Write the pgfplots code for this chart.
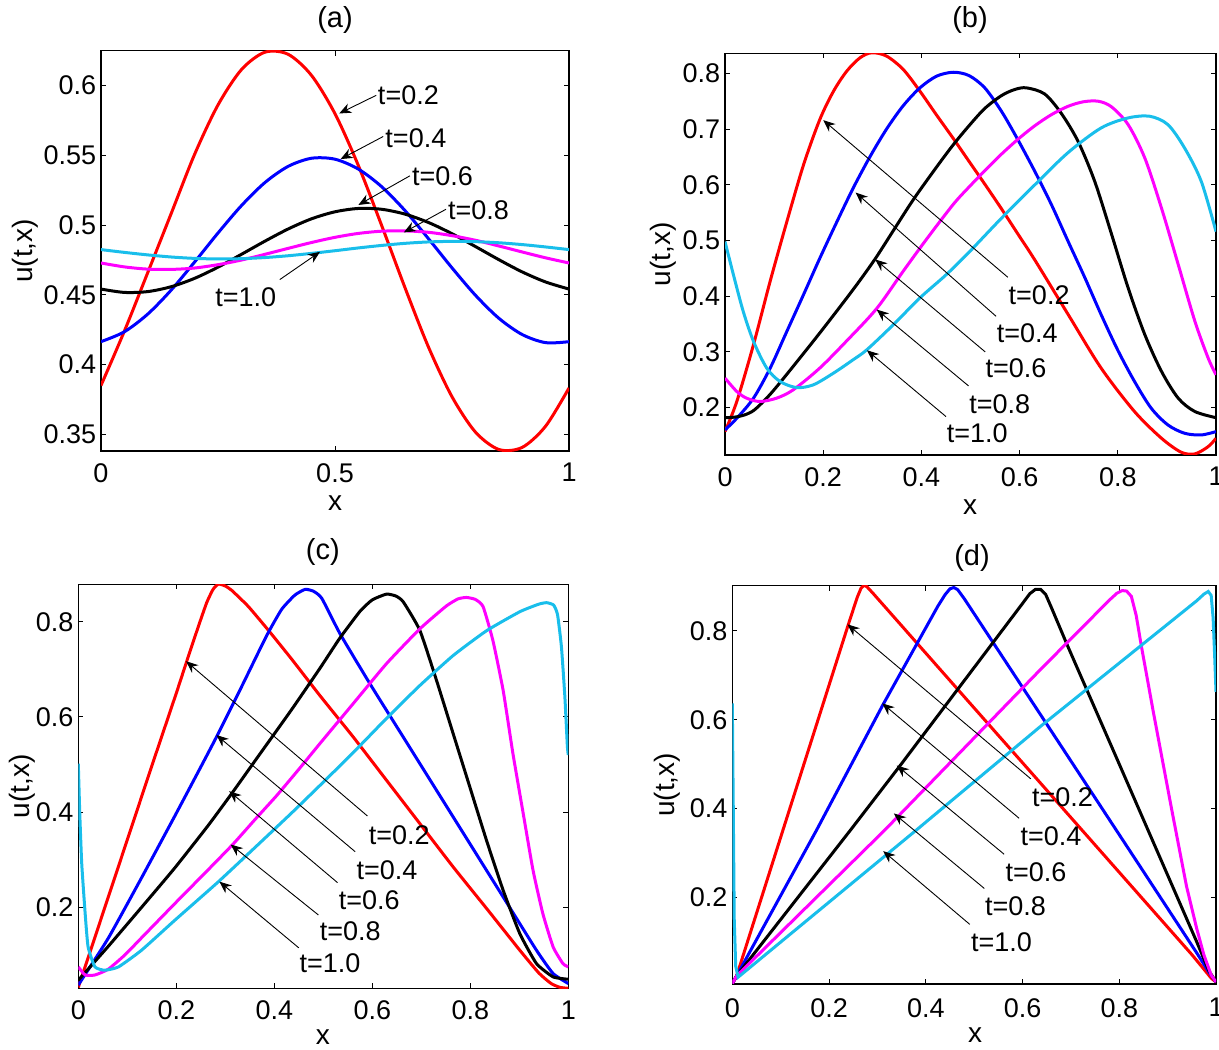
\documentclass[border=0pt]{standalone}
\usepackage{fontspec}
\setmainfont{Liberation Sans}
\usepackage{pgfplots}
\pgfplotsset{compat=1.18}
\usetikzlibrary{arrows.meta}
\definecolor{mcyan}{RGB}{25,190,235}
\definecolor{mmag}{RGB}{255,0,255}
\pgfplotsset{
  panel/.style={
    scale only axis,
    tick align=inside,
    major tick length=2.5pt,
    axis line style={line width=0.6pt},
    every tick/.style={black, line width=0.5pt},
    tick label style={font=\fontsize{13.5}{16}\selectfont},
    label style={font=\fontsize{14}{17}\selectfont},
    every axis title shift=0pt,
    title style={font=\fontsize{14.5}{17}\selectfont, anchor=center, yshift=0pt},
    yticklabel style={inner sep=0pt, xshift=-2.2pt},
    xticklabel style={inner sep=0pt, yshift=-6pt},
    /pgf/number format/assume math mode=true,
    every axis plot/.append style={line width=1.5pt, no marks},
    ylabel={u(t,x)}, xlabel={x},
  },
}
\tikzset{
  ann/.style={-{Stealth[length=6pt,width=5pt]}, line width=0.45pt, black},
  tl/.style={anchor=west, inner sep=0pt, font=\fontsize{13.5}{16}\selectfont},
}
\begin{document}
\begin{tikzpicture}
\path[use as bounding box] (0,0) rectangle (609.5pt,-524.5pt);

% ---------------- (a)
\begin{axis}[panel, at={(50.5pt,-25.35pt)}, anchor=north west,
  width=234pt, height=200.15pt,
  xmin=0, xmax=1, ymin=0.338, ymax=0.625,
  xtick={0,0.5,1}, xticklabels={0,0.5,1}, ytick={0.35,0.4,0.45,0.5,0.55,0.6},
  yticklabels={0.35,0.4,0.45,0.5,0.55,0.6},
  title={(a)},
  title style={at={(axis description cs:0.5,1.077)}},
  ylabel style={at={(axis description cs:-0.162,0.5)}, anchor=center},
  xlabel style={at={(axis description cs:0.5,-0.129)}, anchor=center},
]
\addplot[red, smooth] coordinates {(0,0.385)(0.05,0.424)(0.1,0.466)(0.15,0.5083)(0.2,0.5507)(0.25,0.5861)(0.3,0.6114)(0.35,0.6239)(0.4,0.6224)(0.45,0.6072)(0.5,0.5798)(0.55,0.5426)(0.6,0.4994)(0.65,0.4547)(0.7,0.4123)(0.75,0.3769)(0.8,0.3516)(0.85,0.3391)(0.9,0.3406)(0.95,0.3558)(1,0.3832)};
\addplot[blue, smooth] coordinates {(0,0.4164)(0.05,0.4235)(0.1,0.4362)(0.15,0.4534)(0.2,0.4735)(0.25,0.4943)(0.3,0.5139)(0.35,0.5304)(0.4,0.5421)(0.45,0.5479)(0.5,0.5472)(0.55,0.5401)(0.6,0.5274)(0.65,0.5102)(0.7,0.4901)(0.75,0.4693)(0.8,0.4497)(0.85,0.4332)(0.9,0.4215)(0.95,0.4157)(1,0.4164)};
\addplot[black, smooth] coordinates {(0,0.4541)(0.05,0.4517)(0.1,0.4523)(0.15,0.4558)(0.2,0.4618)(0.25,0.4698)(0.3,0.4790)(0.35,0.4884)(0.4,0.4972)(0.45,0.5045)(0.5,0.5095)(0.55,0.5119)(0.6,0.5113)(0.65,0.5078)(0.7,0.5018)(0.75,0.4938)(0.8,0.4846)(0.85,0.4752)(0.9,0.4664)(0.95,0.4592)(1,0.4541)};
\addplot[mmag, smooth] coordinates {(0,0.4728)(0.05,0.4700)(0.1,0.4684)(0.15,0.4682)(0.2,0.4692)(0.25,0.4716)(0.3,0.4749)(0.35,0.4790)(0.4,0.4833)(0.45,0.4875)(0.5,0.4912)(0.55,0.4940)(0.6,0.4956)(0.65,0.4958)(0.7,0.4948)(0.75,0.4924)(0.8,0.4891)(0.85,0.4850)(0.9,0.4807)(0.95,0.4765)(1,0.4728)};
\addplot[mcyan, smooth] coordinates {(0,0.4824)(0.05,0.4804)(0.1,0.4786)(0.15,0.4771)(0.2,0.4761)(0.25,0.4757)(0.3,0.4759)(0.35,0.4767)(0.4,0.4780)(0.45,0.4797)(0.5,0.4816)(0.55,0.4836)(0.6,0.4854)(0.65,0.4869)(0.7,0.4879)(0.75,0.4883)(0.8,0.4881)(0.85,0.4873)(0.9,0.4860)(0.95,0.4843)(1,0.4824)};
\draw[ann] (axis cs:0.588,0.593) -- (axis cs:0.509,0.580);
\draw[ann] (axis cs:0.603,0.5635) -- (axis cs:0.512,0.5473);
\draw[ann] (axis cs:0.660,0.5353) -- (axis cs:0.550,0.5144);
\draw[ann] (axis cs:0.737,0.5113) -- (axis cs:0.647,0.4947);
\draw[ann] (axis cs:0.382,0.4609) -- (axis cs:0.468,0.4808);
\node[tl] at (axis cs:0.591,0.593) {t=0.2};
\node[tl] at (axis cs:0.607,0.5624) {t=0.4};
\node[tl] at (axis cs:0.664,0.5347) {t=0.6};
\node[tl] at (axis cs:0.741,0.5103) {t=0.8};
\node[tl] at (axis cs:0.2436,0.448) {t=1.0};
\end{axis}

% ---------------- (b)
\begin{axis}[panel, at={(362.5pt,-26.65pt)}, anchor=north west,
  width=245.5pt, height=200.85pt,
  xmin=0, xmax=1, ymin=0.115, ymax=0.836,
  xtick={0,0.2,0.4,0.6,0.8,1}, xticklabels={0,0.2,0.4,0.6,0.8,1},
  ytick={0.2,0.3,0.4,0.5,0.6,0.7,0.8}, yticklabels={0.2,0.3,0.4,0.5,0.6,0.7,0.8},
  title={(b)},
  title style={at={(axis description cs:0.499,1.083)}},
  ylabel style={at={(axis description cs:-0.126,0.5)}, anchor=center},
  xlabel style={at={(axis description cs:0.499,-0.129)}, anchor=center},
]
\addplot[red, smooth] coordinates {(0,0.157)(0.024,0.211)(0.058,0.313)(0.092,0.427)(0.126,0.534)(0.160,0.636)(0.193,0.717)(0.221,0.768)(0.248,0.804)(0.275,0.828)(0.299,0.837)(0.329,0.831)(0.363,0.807)(0.397,0.768)(0.431,0.725)(0.465,0.683)(0.497,0.642)(0.530,0.600)(0.563,0.557)(0.597,0.511)(0.631,0.465)(0.699,0.367)(0.766,0.271)(0.834,0.193)(0.889,0.145)(0.929,0.120)(0.957,0.117)(0.984,0.130)(1,0.145)};
\addplot[blue, smooth] coordinates {(0,0.160)(0.024,0.181)(0.058,0.217)(0.092,0.271)(0.126,0.337)(0.160,0.403)(0.193,0.468)(0.227,0.532)(0.261,0.594)(0.295,0.650)(0.329,0.700)(0.363,0.742)(0.397,0.774)(0.431,0.795)(0.465,0.802)(0.497,0.796)(0.529,0.774)(0.563,0.732)(0.597,0.680)(0.631,0.624)(0.665,0.564)(0.699,0.498)(0.733,0.433)(0.766,0.367)(0.800,0.303)(0.834,0.247)(0.868,0.199)(0.902,0.169)(0.936,0.154)(0.970,0.151)(1,0.157)};
\addplot[black, smooth] coordinates {(0,0.182)(0.02,0.183)(0.04,0.187)(0.06,0.196)(0.09,0.222)(0.126,0.260)(0.193,0.334)(0.261,0.412)(0.305,0.466)(0.343,0.518)(0.384,0.574)(0.431,0.632)(0.465,0.672)(0.497,0.706)(0.529,0.737)(0.563,0.760)(0.59,0.771)(0.614,0.774)(0.651,0.763)(0.685,0.728)(0.719,0.678)(0.753,0.606)(0.787,0.512)(0.821,0.415)(0.855,0.331)(0.889,0.265)(0.923,0.217)(0.957,0.193)(1,0.182)};
\addplot[mmag, smooth] coordinates {(0,0.253)(0.024,0.229)(0.044,0.217)(0.071,0.211)(0.105,0.217)(0.139,0.232)(0.193,0.271)(0.248,0.320)(0.309,0.378)(0.363,0.445)(0.411,0.503)(0.465,0.565)(0.497,0.596)(0.531,0.627)(0.563,0.655)(0.597,0.682)(0.631,0.706)(0.665,0.726)(0.699,0.741)(0.73,0.749)(0.760,0.750)(0.787,0.740)(0.821,0.708)(0.855,0.648)(0.889,0.558)(0.923,0.457)(0.957,0.355)(0.984,0.289)(1,0.259)};
\addplot[mcyan, smooth] coordinates {(0,0.498)(0.017,0.439)(0.037,0.373)(0.058,0.319)(0.085,0.271)(0.112,0.247)(0.146,0.236)(0.180,0.241)(0.221,0.262)(0.261,0.286)(0.289,0.304)(0.343,0.349)(0.397,0.397)(0.451,0.439)(0.497,0.479)(0.563,0.540)(0.631,0.600)(0.699,0.658)(0.766,0.702)(0.821,0.720)(0.865,0.723)(0.902,0.708)(0.936,0.666)(0.970,0.606)(1,0.516)};
\draw[ann] (axis cs:0.576,0.434) -- (axis cs:0.200,0.716);
\draw[ann] (axis cs:0.552,0.364) -- (axis cs:0.266,0.586);
\draw[ann] (axis cs:0.530,0.300) -- (axis cs:0.306,0.466);
\draw[ann] (axis cs:0.496,0.239) -- (axis cs:0.309,0.376);
\draw[ann] (axis cs:0.450,0.184) -- (axis cs:0.289,0.303);
\node[tl] at (axis cs:0.577,0.402) {t=0.2};
\node[tl] at (axis cs:0.553,0.333) {t=0.4};
\node[tl] at (axis cs:0.530,0.270) {t=0.6};
\node[tl] at (axis cs:0.497,0.206) {t=0.8};
\node[tl] at (axis cs:0.451,0.154) {t=1.0};
\end{axis}

% ---------------- (c)
\begin{axis}[panel, at={(39.15pt,-292.15pt)}, anchor=north west,
  width=245pt, height=202pt,
  xmin=0, xmax=1, ymin=0.03, ymax=0.8786,
  xtick={0,0.2,0.4,0.6,0.8,1}, xticklabels={0,0.2,0.4,0.6,0.8,1},
  ytick={0.2,0.4,0.6,0.8}, yticklabels={0.2,0.4,0.6,0.8},
  title={(c)},
  title style={at={(axis description cs:0.499,1.080)}},
  ylabel style={at={(axis description cs:-0.115,0.5)}, anchor=center},
  xlabel style={at={(axis description cs:0.499,-0.121)}, anchor=center},
]
\addplot[red, smooth, tension=0.3] coordinates {(0,0.032)(0.05,0.187)(0.10,0.342)(0.15,0.497)(0.20,0.65)(0.221,0.716)(0.245,0.79)(0.262,0.84)(0.275,0.868)(0.286,0.879)(0.30,0.875)(0.313,0.866)(0.347,0.832)(0.388,0.782)(0.435,0.722)(0.493,0.645)(0.561,0.558)(0.629,0.467)(0.697,0.376)(0.765,0.285)(0.833,0.198)(0.901,0.110)(0.940,0.062)(0.965,0.040)(0.983,0.032)(1,0.030)};
\addplot[blue, smooth, tension=0.3] coordinates {(0,0.037)(0.061,0.135)(0.129,0.262)(0.197,0.392)(0.250,0.495)(0.284,0.562)(0.333,0.663)(0.384,0.770)(0.415,0.826)(0.442,0.856)(0.463,0.868)(0.480,0.864)(0.497,0.849)(0.534,0.775)(0.595,0.670)(0.663,0.558)(0.731,0.446)(0.799,0.334)(0.867,0.222)(0.935,0.110)(0.969,0.061)(1,0.040)};
\addplot[black, smooth, tension=0.3] coordinates {(0,0.047)(0.061,0.118)(0.129,0.200)(0.197,0.283)(0.265,0.372)(0.313,0.439)(0.367,0.517)(0.435,0.615)(0.493,0.702)(0.534,0.766)(0.575,0.822)(0.60,0.846)(0.629,0.858)(0.648,0.854)(0.663,0.842)(0.697,0.782)(0.731,0.677)(0.765,0.565)(0.799,0.453)(0.833,0.341)(0.867,0.236)(0.901,0.145)(0.935,0.082)(0.969,0.054)(1,0.049)};
\addplot[mmag, smooth, tension=0.3] coordinates {(0,0.075)(0.014,0.058)(0.034,0.058)(0.061,0.070)(0.095,0.100)(0.129,0.136)(0.197,0.208)(0.265,0.279)(0.316,0.333)(0.361,0.385)(0.405,0.435)(0.45,0.49)(0.493,0.544)(0.561,0.628)(0.629,0.712)(0.697,0.785)(0.751,0.833)(0.775,0.848)(0.792,0.851)(0.810,0.847)(0.826,0.832)(0.846,0.761)(0.867,0.656)(0.887,0.523)(0.908,0.397)(0.928,0.278)(0.948,0.187)(0.969,0.117)(0.989,0.082)(1,0.075)};
\addplot[mcyan, smooth, tension=0.3] coordinates {(0,0.502)(0.003,0.397)(0.007,0.292)(0.014,0.187)(0.020,0.117)(0.034,0.075)(0.054,0.068)(0.082,0.075)(0.129,0.110)(0.197,0.173)(0.286,0.254)(0.367,0.332)(0.435,0.398)(0.493,0.456)(0.561,0.525)(0.629,0.597)(0.697,0.666)(0.765,0.729)(0.833,0.781)(0.901,0.821)(0.940,0.837)(0.956,0.840)(0.970,0.835)(0.978,0.815)(0.986,0.747)(0.993,0.642)(0.998,0.540)(1,0.52)};
\draw[ann] (axis cs:0.590,0.392) -- (axis cs:0.220,0.717);
\draw[ann] (axis cs:0.565,0.317) -- (axis cs:0.282,0.562);
\draw[ann] (axis cs:0.529,0.252) -- (axis cs:0.308,0.444);
\draw[ann] (axis cs:0.490,0.184) -- (axis cs:0.311,0.332);
\draw[ann] (axis cs:0.450,0.115) -- (axis cs:0.288,0.254);
\node[tl] at (axis cs:0.592,0.352) {t=0.2};
\node[tl] at (axis cs:0.567,0.278) {t=0.4};
\node[tl] at (axis cs:0.531,0.215) {t=0.6};
\node[tl] at (axis cs:0.492,0.149) {t=0.8};
\node[tl] at (axis cs:0.451,0.082) {t=1.0};
\end{axis}

% ---------------- (d)
\begin{axis}[panel, at={(366.15pt,-292.85pt)}, anchor=north west,
  width=241.85pt, height=199.15pt,
  xmin=0, xmax=1, ymin=0.0047, ymax=0.902,
  xtick={0,0.2,0.4,0.6,0.8,1}, xticklabels={0,0.2,0.4,0.6,0.8,1},
  ytick={0.2,0.4,0.6,0.8}, yticklabels={0.2,0.4,0.6,0.8},
  xticklabel style={yshift=-1pt},
  title={(d)},
  title style={at={(axis description cs:0.4956,1.0696)}},
  ylabel style={at={(axis description cs:-0.135,0.5)}, anchor=center},
  xlabel style={at={(axis description cs:0.502,-0.128)}, anchor=center},
]
\addplot[red] coordinates {(0,0.006)(0.009,0.023)(0.104,0.349)(0.24,0.815)(0.258,0.875)(0.266,0.896)(0.272,0.903)(0.278,0.900)(0.290,0.886)(0.464,0.671)(0.75,0.318)(0.95,0.071)(0.975,0.038)(0.99,0.018)(1,0.009)};
\addplot[blue] coordinates {(0,0.006)(0.009,0.023)(0.1745,0.352)(0.311,0.633)(0.425,0.856)(0.440,0.882)(0.450,0.895)(0.458,0.898)(0.466,0.893)(0.480,0.872)(0.664,0.567)(0.85,0.258)(0.96,0.075)(0.985,0.032)(1,0.009)};
\addplot[black] coordinates {(0,0.006)(0.009,0.023)(0.2447,0.352)(0.345,0.494)(0.600,0.862)(0.615,0.884)(0.627,0.894)(0.637,0.894)(0.648,0.882)(0.660,0.852)(0.691,0.772)(0.80,0.50)(0.90,0.25)(0.96,0.10)(0.985,0.035)(1,0.009)};
\addplot[mmag] coordinates {(0,0.006)(0.009,0.023)(0.3157,0.352)(0.636,0.712)(0.78,0.870)(0.795,0.885)(0.806,0.891)(0.815,0.890)(0.825,0.878)(0.835,0.835)(0.846,0.764)(0.870,0.620)(0.908,0.400)(0.939,0.225)(0.960,0.130)(0.975,0.070)(0.990,0.025)(1,0.009)};
\addplot[mcyan] coordinates {(0,0.637)(0.002,0.40)(0.004,0.15)(0.007,0.045)(0.012,0.020)(0.381,0.352)(0.636,0.584)(0.960,0.868)(0.975,0.883)(0.984,0.889)(0.990,0.880)(0.994,0.830)(0.997,0.750)(1,0.663)};
\draw[ann] (axis cs:0.617,0.467) -- (axis cs:0.238,0.815);
\draw[ann] (axis cs:0.593,0.378) -- (axis cs:0.310,0.637);
\draw[ann] (axis cs:0.562,0.297) -- (axis cs:0.340,0.497);
\draw[ann] (axis cs:0.521,0.220) -- (axis cs:0.334,0.389);
\draw[ann] (axis cs:0.491,0.139) -- (axis cs:0.312,0.304);
\node[tl] at (axis cs:0.619,0.425) {t=0.2};
\node[tl] at (axis cs:0.595,0.337) {t=0.4};
\node[tl] at (axis cs:0.564,0.256) {t=0.6};
\node[tl] at (axis cs:0.522,0.179) {t=0.8};
\node[tl] at (axis cs:0.493,0.098) {t=1.0};
\end{axis}
\end{tikzpicture}
\end{document}
